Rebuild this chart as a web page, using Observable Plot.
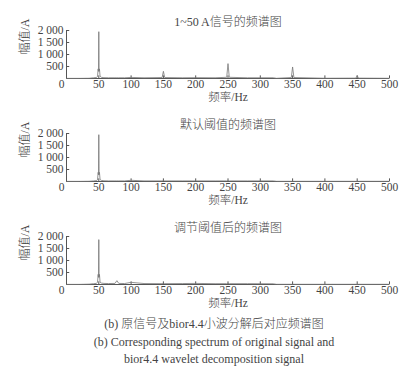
<!DOCTYPE html>
<html>
<head>
<meta charset="utf-8">
<script src="https://cdn.jsdelivr.net/npm/d3@7"></script>
<script src="https://cdn.jsdelivr.net/npm/@observablehq/plot@0.6"></script>
<style>
  body { margin: 0; background: #fff; width: 418px; }
  #charts svg { display: block; }
  #caption { font-family: "Liberation Serif", "Noto Sans CJK SC", serif; font-size: 12px; color: #444;
    text-align: center; line-height: 17.5px; margin-top: 7px; padding-left: 10px; font-weight: 300; }
</style>
</head>
<body>
<div id="charts"></div>
<div id="caption"></div>
<script>
const freq = [0, 20, 35, 42, 46, 48, 49, 49.5, 50, 50.5, 51, 52, 54, 58, 65, 75, 78, 81, 90, 100,
  120, 148, 150, 152, 180, 200, 230, 248, 250, 252, 280, 320, 325, 348, 350, 352, 400, 448, 450, 452, 500];
const amp1 = [5, 5, 10, 30, 40, 80, 400, 300, 1950, 300, 400, 90, 50, 35, 30, 30, 30, 30, 30, 45,
  30, 40, 300, 40, 30, 35, 30, 50, 620, 50, 30, 30, 8, 40, 480, 40, 10, 15, 120, 15, 8];
const amp2 = [5, 5, 10, 25, 35, 70, 380, 280, 1950, 280, 380, 80, 45, 30, 25, 25, 25, 25, 25, 50,
  25, 25, 40, 25, 25, 25, 25, 25, 30, 25, 25, 25, 8, 8, 10, 8, 8, 8, 8, 8, 8];
const amp3 = [5, 5, 15, 35, 45, 90, 420, 300, 1870, 300, 420, 90, 60, 45, 40, 45, 160, 45, 40, 90,
  40, 35, 60, 35, 40, 45, 35, 35, 50, 35, 35, 30, 8, 8, 10, 8, 8, 8, 8, 8, 8];
const titles = ["1~50 A信号的频谱图", "默认阈值的频谱图", "调节阈值后的频谱图"];
const xTicks = [0, 50, 100, 150, 200, 250, 300, 350, 400, 450, 500];
const xTickLabels = ["0", "50", "100", "150", "200", "250", "300", "350", "400", "450", "500"];
const yTicks = [500, 1000, 1500, 2000];
const yTickLabels = ["500", "1 000", "1 500", "2 000"];
const xLabel = "频率/Hz";
const yLabel = "幅值/A";
const captions = ["(b) 原信号及bior4.4小波分解后对应频谱图",
  "(b) Corresponding spectrum of original signal and",
  "bior4.4 wavelet decomposition signal"];

const axisColor = "#555";
function panel(amp, title) {
  const data = freq.map((f, i) => ({f, a: amp[i]}));
  return Plot.plot({
    width: 418, height: 103,
    marginLeft: 66, marginRight: 29, marginTop: 30, marginBottom: 25,
    style: {fontFamily: '"Liberation Serif", "Noto Sans CJK SC", serif', fontSize: "11.5px", color: "#444", background: "#fff", fontWeight: 300},
    x: {domain: [0, 500]},
    y: {domain: [0, 2000]},
    marks: [
      Plot.axisX({ticks: xTicks.slice(1), tickFormat: d => xTickLabels[xTicks.indexOf(d)], tickSize: 0, tickPadding: 1, label: null}),
      Plot.axisY({ticks: yTicks, tickFormat: d => yTickLabels[yTicks.indexOf(d)], tickSize: 0, tickPadding: 3, label: null}),
      Plot.ruleX(xTicks, {y1: 0, y2: 110, stroke: axisColor}),
      Plot.ruleY(yTicks, {x1: 0, x2: 5, stroke: axisColor}),
      Plot.ruleX([0], {stroke: axisColor}),
      Plot.ruleY([0], {stroke: axisColor}),
      Plot.line(data, {x: "f", y: "a", stroke: "#777", strokeWidth: 0.8}),
      Plot.text([xTickLabels[0]], {x: 0, y: 0, dx: -5, dy: 1, lineAnchor: "top"}),
      Plot.text([title], {frameAnchor: "top", dy: -13, fontSize: 12}),
      Plot.text([xLabel], {frameAnchor: "bottom", dy: 22.5, fontSize: 11.5}),
      Plot.text([yLabel], {frameAnchor: "left", dx: -41, rotate: -90, fontSize: 12})
    ]
  });
}
const charts = document.getElementById("charts");
[amp1, amp2, amp3].forEach((a, i) => charts.appendChild(panel(a, titles[i])));
const cap = document.getElementById("caption");
captions.forEach(t => { const d = document.createElement("div"); d.textContent = t; cap.appendChild(d); });
</script>
</body>
</html>
